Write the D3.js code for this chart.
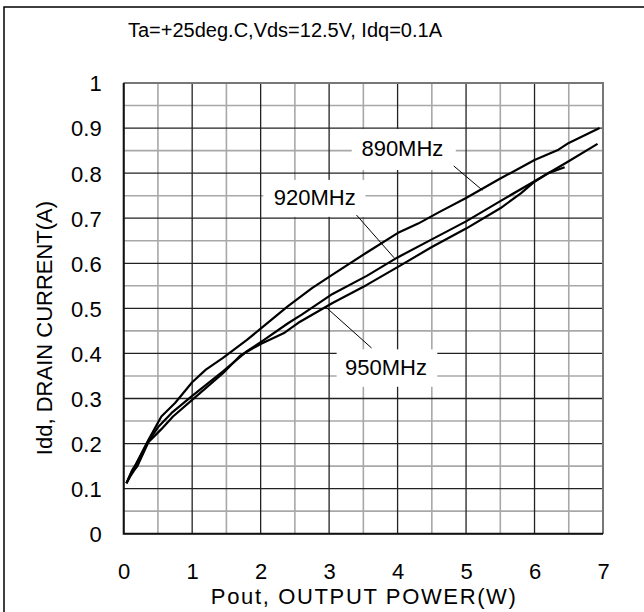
<!DOCTYPE html>
<html lang="en">
<head>
    <meta charset="UTF-8">
    <title>Idd vs Pout</title>
    <script src="https://d3js.org/d3.v7.min.js"></script>
    <style>
        body { margin: 0; background: white; }
        text { font-family: "Liberation Sans", Arial, sans-serif; fill: black; }
    </style>
</head>
<body>
<script>

// (Pout in W, Idd in A)
const x890 = [0.04, 0.12, 0.17, 0.36, 0.55, 0.75, 1.0, 1.2, 1.45, 1.8, 2.0, 2.4, 2.75, 3.05, 3.55, 4.0, 4.3, 4.6, 5.0, 5.5, 6.0, 6.35, 6.5, 6.95]
const y890 = [0.112, 0.14, 0.152, 0.208, 0.26, 0.29, 0.336, 0.364, 0.39, 0.43, 0.455, 0.505, 0.545, 0.575, 0.624, 0.667, 0.688, 0.713, 0.745, 0.788, 0.829, 0.852, 0.867, 0.9]

const x920 = [0.04, 0.12, 0.17, 0.36, 0.5, 0.7, 1.0, 1.45, 1.8, 2.05, 2.4, 2.6, 3.05, 3.55, 4.0, 4.5, 5.0, 5.5, 6.0, 6.45, 6.92]
const y920 = [0.112, 0.138, 0.15, 0.205, 0.236, 0.268, 0.306, 0.36, 0.405, 0.43, 0.467, 0.486, 0.532, 0.572, 0.613, 0.653, 0.693, 0.738, 0.782, 0.822, 0.865]

const x950 = [0.04, 0.1, 0.15, 0.2, 0.36, 0.55, 0.72, 1.0, 1.45, 1.7, 2.0, 2.35, 2.55, 3.05, 3.55, 4.05, 4.5, 5.0, 5.5, 5.8, 6.0, 6.2, 6.44]
const y950 = [0.112, 0.128, 0.14, 0.15, 0.203, 0.232, 0.26, 0.297, 0.356, 0.395, 0.421, 0.446, 0.468, 0.512, 0.552, 0.596, 0.636, 0.677, 0.722, 0.755, 0.781, 0.8, 0.813]

const xTicks = [0, 1, 2, 3, 4, 5, 6, 7]
const yTicks = [0, 0.1, 0.2, 0.3, 0.4, 0.5, 0.6, 0.7, 0.8, 0.9, 1]

// curve labels: box corners, text centre and leader line, all in data units
const labels = [
    {text: "890MHz", box: [3.33, 4.85, 0.807, 0.898], at: [4.07, 0.855], lead: [4.82, 0.816, 5.24, 0.762]},
    {text: "920MHz", box: [2.04, 3.53, 0.703, 0.785], at: [2.79, 0.746], lead: [3.40, 0.707, 3.95, 0.612]},
    {text: "950MHz", box: [3.11, 4.58, 0.326, 0.409], at: [3.83, 0.37], lead: [3.62, 0.412, 2.95, 0.503]}
]

const series = [[x890, y890], [x920, y920], [x950, y950]]

var canvas = d3.select("body")
    .append("svg")
    .attr("width", 644)
    .attr("height", 612);

// outer frame of the figure (runs off right/bottom edge)
canvas.append("rect")
    .attr("x", 4).attr("y", 7)
    .attr("width", 700).attr("height", 700)
    .attr("fill", "white")
    .attr("stroke", "black")
    .attr("stroke-width", 1.5);

const plotLeft = 123.7, plotRight = 603, plotTop = 83, plotBottom = 533.7;

var x = d3.scaleLinear().domain([0, 7]).range([plotLeft, plotRight]);
var y = d3.scaleLinear().domain([0, 1]).range([plotBottom, plotTop]);

//grid lines, minor in one group and major in a second one on top
var minorGrid = canvas.append("g");
var majorGrid = canvas.append("g");
d3.range(0, 7.01, 0.5).forEach(function(v) {
    var major = Math.abs(v - Math.round(v)) < 1e-6;
    (major ? majorGrid : minorGrid).append("line")
        .attr("x1", x(v)).attr("x2", x(v))
        .attr("y1", y(0)).attr("y2", y(1))
        .attr("stroke", major ? "#222" : "#a8a8a8")
        .attr("stroke-width", major ? 1.3 : 1.6);
});
d3.range(0, 1.001, 0.05).forEach(function(v) {
    var major = Math.abs(v * 10 - Math.round(v * 10)) < 1e-6;
    (major ? majorGrid : minorGrid).append("line")
        .attr("x1", x(0)).attr("x2", x(7))
        .attr("y1", y(v)).attr("y2", y(v))
        .attr("stroke", major ? "#222" : "#a8a8a8")
        .attr("stroke-width", major ? 1.3 : 1.6);
});

//plot border: gray top/right, black left/bottom
canvas.append("path")
    .attr("d", "M" + x(0) + "," + y(1) + "H" + x(7) + "V" + y(0))
    .attr("fill", "none").attr("stroke", "#777").attr("stroke-width", 2);
canvas.append("path")
    .attr("d", "M" + x(0) + "," + y(1) + "V" + y(0) + "H" + x(7))
    .attr("fill", "none").attr("stroke", "#111").attr("stroke-width", 2);

//axes: only labels, no tick marks
var xAxis = canvas.append("g")
    .attr("transform", "translate(0," + (plotBottom + 45.6) + ")")
    .call(d3.axisBottom(x).tickValues(xTicks).tickSize(0).tickFormat(d3.format("d")));
var yAxis = canvas.append("g")
    .attr("transform", "translate(" + (plotLeft - 22) + ",0)")
    .call(d3.axisLeft(y).tickValues(yTicks).tickSize(0).tickFormat(function(d) { return d == 0 || d == 1 ? d : d.toFixed(1); }));
[xAxis, yAxis].forEach(function(a) {
    a.select(".domain").remove();
    a.selectAll("text")
        .style("font-family", "'Liberation Sans', Arial, sans-serif")
        .style("font-size", "22px")
        .attr("fill", "black");
});
xAxis.selectAll("text").attr("dy", 0).attr("y", 0);
yAxis.selectAll("text").attr("x", 0).attr("dy", "0.36em");

//axis titles and condition text
canvas.append("text")
    .attr("x", (plotLeft + plotRight) / 2).attr("y", 604)
    .attr("text-anchor", "middle")
    .attr("textLength", 305)
    .style("font-size", "22px")
    .text("Pout, OUTPUT POWER(W)");

canvas.append("text")
    .attr("transform", "translate(52,328) rotate(-90)")
    .attr("text-anchor", "middle")
    .style("font-size", "22px")
    .text("Idd, DRAIN CURRENT(A)");

canvas.append("text")
    .attr("x", 128).attr("y", 37)
    .style("font-size", "20px")
    .text("Ta=+25deg.C,Vds=12.5V, Idq=0.1A");

//the three frequency curves
var line = d3.line()
    .x(function(d) { return x(d[0]); })
    .y(function(d) { return y(d[1]); });

canvas.selectAll(".curve")
    .data(series)
    .enter()
    .append("path")
    .attr("class", "curve")
    .attr("d", function(s) { return line(d3.zip(s[0], s[1])); })
    .attr("fill", "none")
    .attr("stroke", "black")
    .attr("stroke-width", 2.2)
    .attr("stroke-linejoin", "round");

//label boxes with leader lines
var lab = canvas.selectAll(".lab")
    .data(labels)
    .enter()
    .append("g")
    .attr("class", "lab");

lab.append("rect")
    .attr("x", d => x(d.box[0]))
    .attr("y", d => y(d.box[3]))
    .attr("width", d => x(d.box[1]) - x(d.box[0]))
    .attr("height", d => y(d.box[2]) - y(d.box[3]))
    .attr("fill", "white");

lab.append("line")
    .attr("x1", d => x(d.lead[0])).attr("y1", d => y(d.lead[1]))
    .attr("x2", d => x(d.lead[2])).attr("y2", d => y(d.lead[3]))
    .attr("stroke", "black")
    .attr("stroke-width", 1);

lab.append("text")
    .attr("x", d => x(d.at[0]))
    .attr("y", d => y(d.at[1]))
    .attr("dy", "0.36em")
    .attr("text-anchor", "middle")
    .style("font-size", "22px")
    .text(d => d.text);

</script>
</body>
</html>
